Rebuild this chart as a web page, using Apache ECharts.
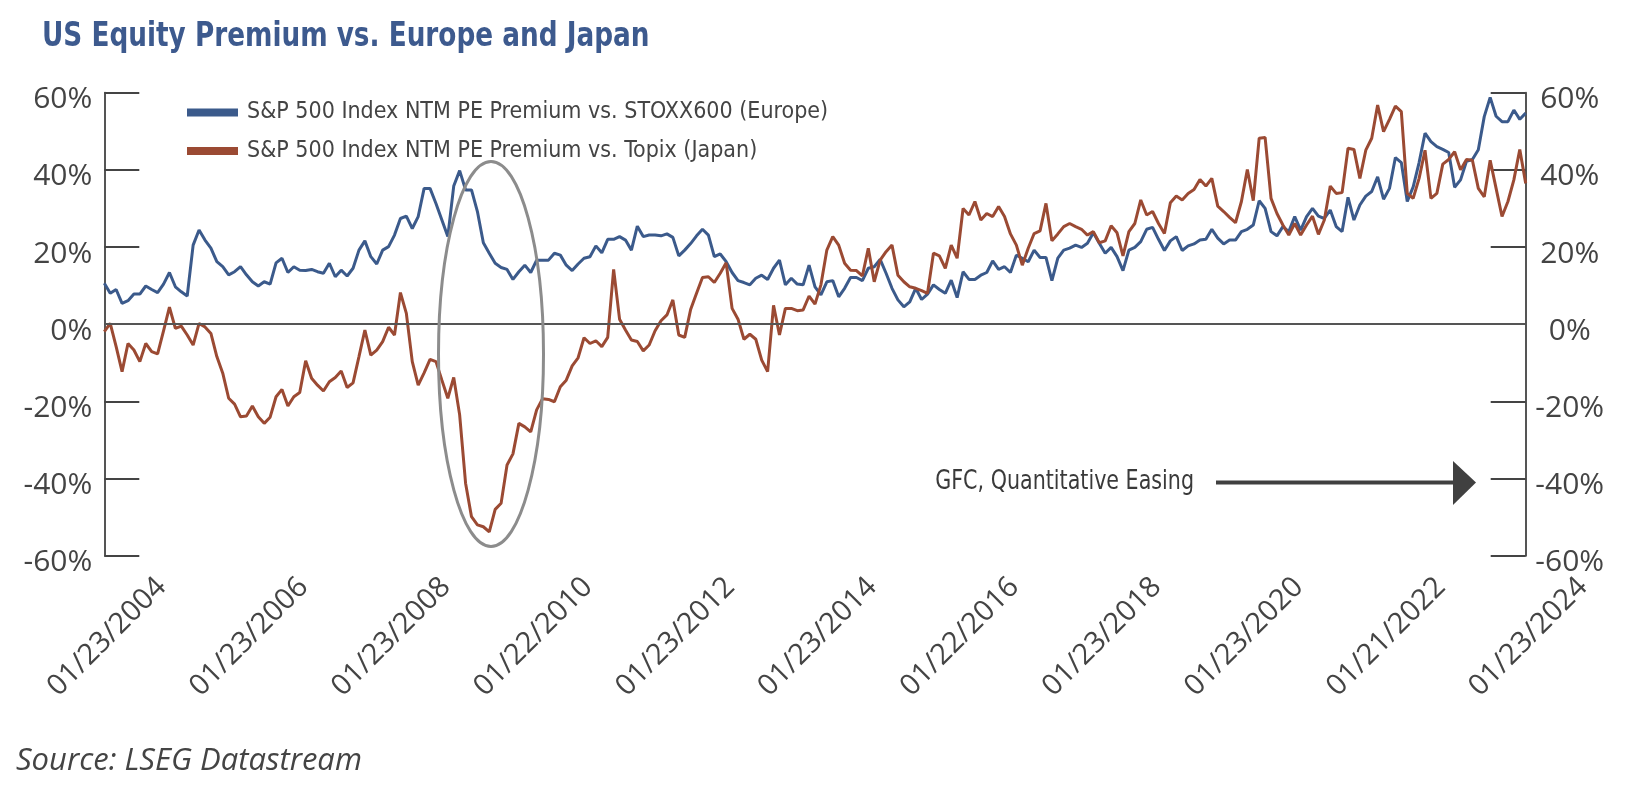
<!DOCTYPE html>
<html>
<head>
<meta charset="utf-8">
<title>US Equity Premium vs. Europe and Japan</title>
<script src="https://cdn.jsdelivr.net/npm/echarts@6/dist/echarts.min.js"></script>
<style>
  html, body { margin: 0; padding: 0; background: #fff; }
  #main { width: 1638px; height: 812px; }
</style>
</head>
<body>
<div id="main"></div>
<script>
// monthly points, 01/2004 .. 01/2024, values in %
const tickLabels = ['01/23/2004', '01/23/2006', '01/23/2008', '01/22/2010', '01/23/2012', '01/23/2014',
  '01/22/2016', '01/23/2018', '01/23/2020', '01/21/2022', '01/23/2024'];

const europe = [
  10.6, 8.0, 9.0, 5.4, 6.1, 7.8, 7.8, 9.9, 9.0, 8.2,
  10.4, 13.4, 9.7, 8.4, 7.3, 20.5, 24.4, 21.8, 19.7, 16.2,
  14.9, 12.8, 13.6, 14.9, 12.8, 11.0, 9.9, 11.0, 10.4, 15.9,
  17.1, 13.4, 14.9, 14.0, 13.9, 14.2, 13.6, 13.2, 15.8, 12.3,
  14.0, 12.5, 14.5, 19.2, 21.6, 17.5, 15.6, 19.2, 20.1, 23.1,
  27.4, 28.0, 24.8, 27.9, 35.2, 35.2, 31.3, 27.0, 22.7, 35.8,
  39.8, 34.8, 34.8, 29.2, 21.1, 18.4, 15.8, 14.7, 14.2, 11.6,
  13.6, 15.3, 13.4, 16.6, 16.6, 16.6, 18.4, 17.9, 15.3, 13.9,
  15.6, 17.1, 17.5, 20.3, 18.5, 22.0, 22.0, 22.7, 21.8, 19.2,
  25.4, 22.7, 23.1, 23.1, 22.9, 23.4, 22.5, 17.7, 19.2, 20.9,
  22.9, 24.6, 23.1, 17.5, 18.2, 16.2, 13.4, 11.3, 10.8, 10.2,
  11.9, 12.7, 11.6, 14.5, 16.6, 10.2, 11.9, 10.4, 10.2, 15.3,
  9.7, 7.6, 11.0, 11.3, 7.1, 9.3, 12.1, 12.1, 11.3, 14.5,
  14.9, 16.8, 13.2, 9.3, 6.3, 4.5, 5.8, 9.3, 6.4, 7.8,
  10.2, 9.0, 8.0, 11.4, 6.9, 13.6, 11.6, 11.6, 12.7, 13.4,
  16.4, 14.2, 14.9, 13.4, 17.9, 17.1, 16.2, 19.2, 17.3, 17.3,
  11.3, 17.1, 19.2, 19.7, 20.5, 19.9, 21.0, 23.7, 21.0, 18.4,
  19.9, 17.5, 13.9, 19.2, 19.9, 21.4, 24.6, 25.1, 22.0, 19.1,
  21.6, 22.7, 19.1, 20.3, 20.8, 21.8, 22.0, 24.6, 22.3, 20.8,
  21.8, 21.8, 24.0, 24.6, 25.7, 32.0, 30.0, 24.0, 22.9, 25.3,
  24.0, 27.9, 24.4, 27.9, 30.0, 28.0, 27.4, 29.6, 25.3, 24.0,
  32.9, 27.0, 30.9, 33.2, 34.4, 38.2, 32.4, 35.2, 43.2, 41.9,
  31.8, 35.6, 41.9, 49.5, 47.3, 46.0, 45.3, 44.5, 35.5, 37.4,
  42.2, 42.7, 45.2, 53.8, 58.8, 53.9, 52.5, 52.5, 55.5, 53.1,
  54.7
];

const japan = [
  -1.9, 0.2, -5.8, -12.3, -5.0, -6.7, -9.7, -5.0, -7.1, -7.7,
  -1.7, 4.4, -1.1, -0.5, -2.8, -5.4, 0.2, -0.7, -2.4, -8.4,
  -12.7, -19.2, -20.7, -24.0, -23.8, -21.2, -24.0, -25.7, -24.1, -18.8,
  -16.9, -21.2, -18.8, -17.7, -9.5, -14.0, -15.8, -17.3, -14.9, -13.8,
  -12.1, -16.4, -15.2, -8.4, -1.5, -8.0, -6.7, -4.5, -0.8, -2.8,
  8.2, 2.8, -9.7, -15.8, -12.6, -9.1, -9.7, -14.5, -19.2, -13.8,
  -23.5, -41.2, -49.9, -52.0, -52.5, -53.8, -48.0, -46.4, -36.5, -33.6,
  -25.7, -26.6, -27.9, -22.2, -19.3, -19.5, -20.1, -16.2, -14.5, -10.8,
  -8.7, -3.5, -5.0, -4.3, -5.8, -3.4, 14.2, 1.3, -1.5, -4.1,
  -4.5, -6.9, -5.4, -1.7, 0.9, 2.4, 6.3, -2.8, -3.4, 3.8,
  8.0, 12.1, 12.3, 10.8, 13.2, 15.9, 4.1, 1.3, -3.9, -2.6,
  -3.9, -9.3, -12.3, 4.9, -2.8, 4.1, 4.1, 3.5, 3.7, 7.3,
  5.2, 10.2, 19.2, 22.7, 20.5, 15.8, 14.0, 13.9, 12.5, 19.7,
  11.0, 16.6, 18.8, 20.5, 12.7, 11.0, 9.7, 9.3, 8.7, 8.0,
  18.4, 17.7, 14.5, 20.5, 17.1, 30.0, 28.3, 31.8, 27.0, 28.7,
  27.9, 30.5, 27.9, 23.4, 20.5, 15.3, 19.7, 23.5, 24.2, 31.3,
  21.6, 23.4, 25.3, 26.1, 25.3, 24.6, 23.1, 24.0, 21.1, 21.6,
  25.5, 23.7, 17.7, 24.0, 26.1, 32.2, 28.3, 29.2, 26.1, 23.5,
  31.5, 33.2, 32.2, 33.9, 34.9, 37.5, 35.8, 37.8, 30.6, 29.2,
  27.7, 26.3, 31.8, 40.1, 32.0, 48.2, 48.4, 32.6, 28.7, 25.7,
  23.1, 26.1, 23.1, 25.7, 28.0, 23.3, 27.0, 35.8, 33.9, 34.1,
  45.6, 45.3, 37.8, 45.1, 48.2, 56.8, 49.9, 53.1, 56.5, 55.1,
  33.9, 32.6, 37.8, 45.1, 32.6, 33.9, 41.5, 42.7, 44.7, 40.0,
  42.7, 42.5, 35.2, 33.0, 42.5, 35.2, 27.9, 31.8, 37.4, 45.3,
  36.5
];

const seriesNames = ['S&P 500 Index NTM PE Premium vs. STOXX600 (Europe)', 'S&P 500 Index NTM PE Premium vs. Topix (Japan)'];

const BLUE = '#3b5a8b';
const RUST = '#9b4a33';
const INK = '#444444';
const NARROW = "'Liberation Sans Narrow', 'DejaVu Sans Condensed', 'Arial Narrow', sans-serif";
const SANS = "'Open Sans', 'Noto Sans', sans-serif";

const myChart = echarts.init(document.getElementById('main'));

const yAxisBase = {
  type: 'value',
  min: -60,
  max: 60,
  interval: 20,
  axisLine: { show: true, lineStyle: { color: '#555', width: 2 } },
  axisTick: { show: true, inside: true, length: 35, lineStyle: { color: '#444', width: 2 } },
  splitLine: { show: false },
  axisLabel: {
    formatter: '{value}%',
    fontFamily: SANS,
    fontSize: 30,
    color: INK,
    verticalAlign: 'top',
    lineHeight: 14
  }
};

const option = {
  animation: false,
  backgroundColor: '#fff',
  grid: { left: 104.3, right: 112.3, top: 92.7, bottom: 256.3 },
  legend: {
    orient: 'vertical',
    left: 182,
    top: 92.5,
    itemWidth: 51,
    itemHeight: 8,
    itemGap: 8.5,
    icon: 'rect',
    data: seriesNames,
    textStyle: { fontFamily: NARROW, fontSize: 23, color: INK, lineHeight: 30, padding: [0, 0, 0, 4] }
  },
  xAxis: {
    type: 'value',
    min: 0,
    max: 240,
    interval: 24,
    axisLine: { show: false },
    axisTick: { show: false },
    splitLine: { show: false },
    axisLabel: {
      showMinLabel: true,
      showMaxLabel: true,
      rotate: 45,
      align: 'center',
      verticalAlign: 'middle',
      margin: 84,
      padding: [8, 0, 0, 8],
      fontFamily: SANS,
      fontSize: 29,
      color: INK,
      formatter: function (v) { return tickLabels[Math.round(v / 24)]; }
    }
  },
  yAxis: [
    Object.assign({}, yAxisBase, { position: 'left', axisLabel: Object.assign({}, yAxisBase.axisLabel, { margin: 12 }) }),
    Object.assign({}, yAxisBase, { position: 'right', axisLabel: Object.assign({}, yAxisBase.axisLabel, { margin: 44, align: 'center' }) })
  ],
  series: [
    {
      name: seriesNames[0],
      type: 'line',
      showSymbol: false,
      data: europe.map(function (v, i) { return [i, v]; }),
      lineStyle: { color: BLUE, width: 3 },
      itemStyle: { color: BLUE },
      markLine: {
        silent: true,
        symbol: 'none',
        label: { show: false },
        lineStyle: { color: '#555', width: 2, type: 'solid' },
        data: [{ yAxis: 0 }]
      }
    },
    {
      name: seriesNames[1],
      type: 'line',
      showSymbol: false,
      data: japan.map(function (v, i) { return [i, v]; }),
      lineStyle: { color: RUST, width: 3 },
      itemStyle: { color: RUST }
    }
  ],
  graphic: [
    {
      type: 'text', x: 42, y: 37, scaleX: 0.86,
      style: { text: 'US Equity Premium vs. Europe and Japan', fill: '#3d5a8e', font: 'bold 34px ' + NARROW, align: 'left', verticalAlign: 'middle' }
    },
    {
      type: 'ellipse', z: 100,
      shape: { cx: 491, cy: 354, rx: 52.5, ry: 192.5 },
      style: { fill: 'none', stroke: '#8c8c8c', lineWidth: 3 }
    },
    {
      type: 'text', x: 1194, y: 482, scaleX: 0.85,
      style: { text: 'GFC, Quantitative Easing', fill: '#3a3a3a', font: '27px ' + NARROW, align: 'right', verticalAlign: 'middle' }
    },
    {
      type: 'line',
      shape: { x1: 1216, y1: 482.5, x2: 1458, y2: 482.5 },
      style: { stroke: '#404040', lineWidth: 4 }
    },
    {
      type: 'polygon',
      shape: { points: [[1453, 461], [1476, 482.5], [1453, 505]] },
      style: { fill: '#404040' }
    },
    {
      type: 'text', x: 16, y: 761,
      style: { text: 'Source: LSEG Datastream', fill: INK, font: 'italic 31px ' + SANS, align: 'left', verticalAlign: 'middle' }
    }
  ]
};

myChart.setOption(option);
</script>
</body>
</html>
